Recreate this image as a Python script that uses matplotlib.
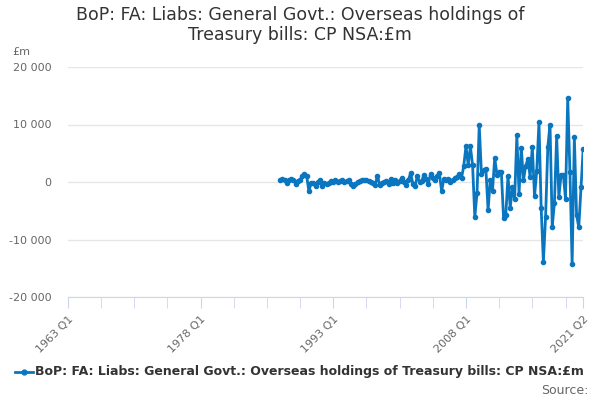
import numpy as np
import pandas as pd
import matplotlib
matplotlib.use("Agg")
import matplotlib.pyplot as plt
from matplotlib.ticker import FuncFormatter
from matplotlib.lines import Line2D

# quarterly values, 1987 Q1 .. 2021 Q2 (£m)
first_quarter = "1987Q1"
last_quarter = "2021Q2"
axis_start = "1963Q1"

values_1987_2004 = [
    290, 520, 400, -170, 290, 520, 400, -290, 170, 400,
    1100, 1450, 990, -1620, -170, -170, -640, -60, 400, -750,
    -170, -400, -170, 120, -60, 290, -60, 120, 290, 0,
    170, 290, -290, -640, -400, 60, 170, 290, 290, 400, 120,
    -60, -170, -460, 1100, -520, -170, -60, 120, -290, 520,
    -170, 290, -170, 120, 700, 60, -460, 400, 1570, -290, -640,
    990, 60, 170, 1280, 520, -290, 1450, 640, 290, 990,
]
values_2005_2021 = [
    1500, -1600, 500, 300, 500, 0, 400, 700, 900, 1400, 700,
    2800, 6200, 3000, 6200, 2900, -6100, -1900, 9900, 1400, 2100,
    2300, -4900, 400, -1500, 4200, 1300, 1700, 1700, -6300, -5800,
    1100, -4500, -900, -3000, 8100, -2000, 6000, 300, 2800, 4000,
    900, 6100, -2500, 2000, 10400, -4500, -13900, -6000, 6100, 10000,
    -7800, -3600, 8000, -2600, 1300, 1300, -2900, 14600, 1800, -14300,
    7800, -5700, -7900, -900, 5800,
]
values = values_1987_2004 + values_2005_2021

label_quarters = ["1963Q1", "1978Q1", "1993Q1", "2008Q1", "2021Q2"]
y_ticks = [-20000, -10000, 0, 10000, 20000]

series_name = "BoP: FA: Liabs: General Govt.: Overseas holdings of Treasury bills: CP NSA:£m"
title = "BoP: FA: Liabs: General Govt.: Overseas holdings of\nTreasury bills: CP NSA:£m"

start = pd.Period(axis_start, freq="Q")
periods = pd.period_range(first_quarter, last_quarter, freq="Q")
x = np.array([(p - start).n for p in periods])[:len(values)]
end_q = (pd.Period(last_quarter, freq="Q") - start).n

line_col = "#0a76bf"

fig = plt.figure(figsize=(6, 4), dpi=100)
ax = fig.add_axes([0.113, 0.2575, 0.859, 0.575])

ax.plot(x, values, color=line_col, lw=2, marker="o", ms=3, zorder=3)

ax.set_xlim(0, end_q)
ax.set_ylim(-20000, 20000)
ax.set_yticks(y_ticks)
ax.yaxis.set_major_formatter(FuncFormatter(lambda v, p: f"{int(v):,}".replace(",", " ")))
ax.grid(axis="y", color="#e6e6e6", lw=1)
ax.set_axisbelow(True)

minor = list(range(0, end_q, 15)) + [end_q]
lab_pos = [(pd.Period(q, freq="Q") - start).n for q in label_quarters]
ax.set_xticks(minor, minor=True)
ax.set_xticks(lab_pos)
ax.set_xticklabels([q[:4] + " " + q[4:] for q in label_quarters],
                   rotation=45, ha="right", va="top", rotation_mode="anchor")
ax.tick_params(axis="x", which="both", length=8, color="#ccd6eb", labelsize=8,
               labelcolor="#666666", pad=4)
ax.tick_params(axis="y", length=0, labelsize=8, labelcolor="#666666", pad=12)

for s in ["top", "right", "left"]:
    ax.spines[s].set_visible(False)
ax.spines["bottom"].set_color("#ccd6eb")

fig.text(0.5, 0.985, title, ha="center", va="top", fontsize=12.5, color="#333333",
         linespacing=1.15)
fig.text(0.02, 0.87, "£m", fontsize=8, color="#666666", va="center")

# legend entry drawn by hand, bottom left
leg_y = 1 - 372 / 400
fig.add_artist(Line2D([0.025, 0.055], [leg_y, leg_y], color=line_col, lw=2,
                      transform=fig.transFigure))
fig.add_artist(Line2D([0.04], [leg_y], color=line_col, marker="o", ms=3.5,
                      transform=fig.transFigure))
fig.text(0.058, leg_y, series_name, fontsize=9, fontweight="bold", color="#333333",
         va="center")
fig.text(0.98, 1 - 390 / 400, "Source:", fontsize=9, color="#666666", ha="right",
         va="center")

fig.savefig("out.png", dpi=100)
